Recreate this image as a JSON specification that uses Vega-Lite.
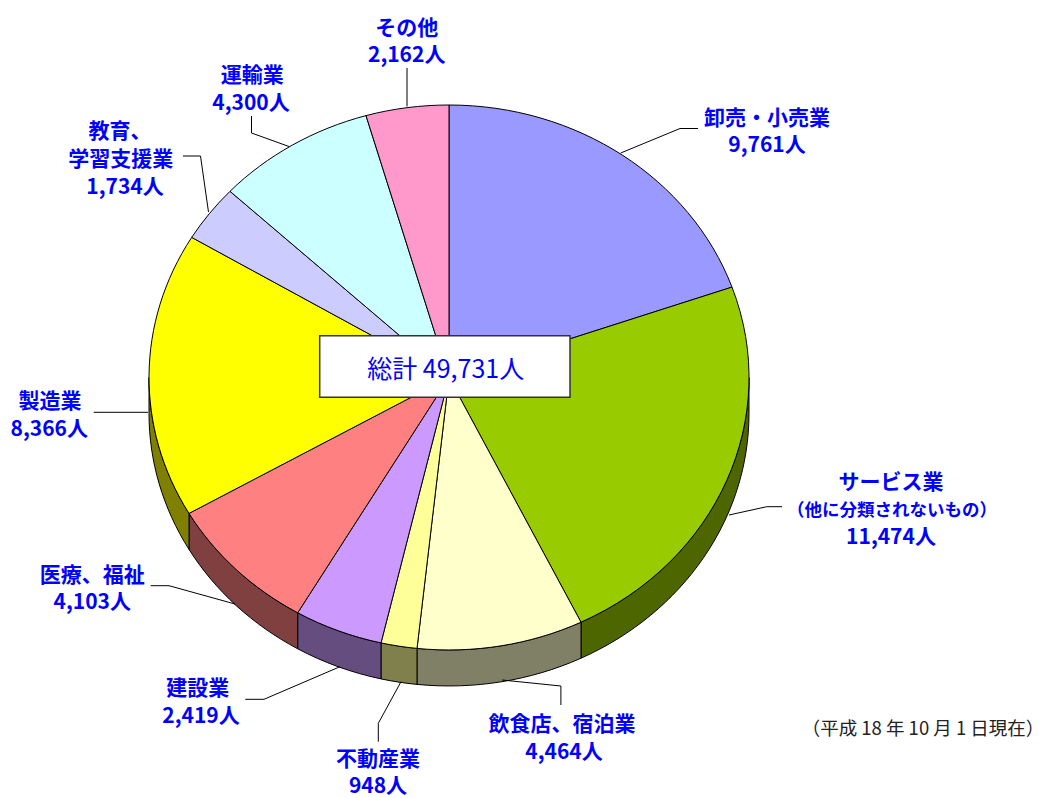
{"$schema":"https://vega.github.io/schema/vega-lite/v6.json","width":1053,"height":798,"padding":0,"autosize":{"type":"none"},"background":"white","view":{"stroke":null},
"datasets":{
"pie":[{"sector":"卸売・小売業","count":9761},{"sector":"サービス業（他に分類されないもの）","count":11474},{"sector":"飲食店、宿泊業","count":4464},{"sector":"不動産業","count":948},{"sector":"建設業","count":2419},{"sector":"医療、福祉","count":4103},{"sector":"製造業","count":8366},{"sector":"教育、学習支援業","count":1734},{"sector":"運輸業","count":4300},{"sector":"その他","count":2162}],
"leaders":[
{"k":"a","s":0,"x":249,"y":-249},{"k":"a","s":1,"x":231,"y":-249},{"k":"a","s":2,"x":171.7,"y":-224.5},
{"k":"b","s":0,"x":333,"y":129.2},{"k":"b","s":1,"x":317.7,"y":129.2},{"k":"b","s":2,"x":280,"y":137.5},
{"k":"c","s":0,"x":111.9,"y":327.5},{"k":"c","s":1,"x":111.9,"y":308.5},{"k":"c","s":2,"x":53,"y":302.5},
{"k":"d","s":0,"x":-70.7,"y":364.2},{"k":"d","s":1,"x":-70.7,"y":345.8},{"k":"d","s":2,"x":-48,"y":304.2},
{"k":"e","s":0,"x":-203.7,"y":321.8},{"k":"e","s":1,"x":-185,"y":321.8},{"k":"e","s":2,"x":-109,"y":289.2},
{"k":"f","s":0,"x":-298.3,"y":208.2},{"k":"f","s":1,"x":-280,"y":208.2},{"k":"f","s":2,"x":-214,"y":226.5},
{"k":"g","s":0,"x":-355.3,"y":34.8},{"k":"g","s":1,"x":-301,"y":34.8},
{"k":"h","s":0,"x":-266,"y":-221.5},{"k":"h","s":1,"x":-248.5,"y":-221.5},{"k":"h","s":2,"x":-240.5,"y":-165.5},
{"k":"i","s":0,"x":-197.5,"y":-261.5},{"k":"i","s":1,"x":-197.5,"y":-244.5},{"k":"i","s":2,"x":-160,"y":-231},
{"k":"j","s":0,"x":-42,"y":-309.5},{"k":"j","s":1,"x":-42,"y":-271}
],
"labels":[
{"t":"卸売・小売業","x":318,"y":-259},{"t":"9,761人","x":318,"y":-231.5},
{"t":"サービス業","x":442,"y":105},{"t":"11,474人","x":442,"y":160.5},
{"t":"飲食店、宿泊業","x":113,"y":347.3},{"t":"4,464人","x":115,"y":375},
{"t":"不動産業","x":-71,"y":382},{"t":"948人","x":-71,"y":409.5},
{"t":"建設業","x":-251.3,"y":311.5},{"t":"2,419人","x":-248,"y":339},
{"t":"医療、福祉","x":-356.7,"y":198.3},{"t":"4,103人","x":-356.7,"y":225.8},
{"t":"製造業","x":-399,"y":24.5},{"t":"8,366人","x":-399.7,"y":52},
{"t":"教育、","x":-329,"y":-245.5},{"t":"学習支援業","x":-328.3,"y":-217.5},{"t":"1,734人","x":-324,"y":-190},
{"t":"運輸業","x":-196.7,"y":-301.5},{"t":"4,300人","x":-198,"y":-274},
{"t":"その他","x":-42.3,"y":-349},{"t":"2,162人","x":-42.3,"y":-321.5}
]},
"layer":[
{"data":{"name":"pie"},"transform":[{"filter":{"field":"sector","oneOf":["サービス業（他に分類されないもの）","飲食店、宿泊業","不動産業","建設業","医療、福祉","製造業"]}}],
"mark":{"type":"point","filled":true,"size":4,"opacity":1,"stroke":"black","strokeWidth":1},
"encoding":{"x":{"datum":0,"type":"quantitative","scale":{"domain":[-449,604],"nice":false,"zero":false},"axis":null},"y":{"datum":0,"type":"quantitative","scale":{"domain":[420.5,-377.5],"nice":false,"zero":false},"axis":null},
"fill":{"field":"sector","type":"nominal","legend":null,"scale":{"domain":["サービス業（他に分類されないもの）","飲食店、宿泊業","不動産業","建設業","医療、福祉","製造業"],"range":["#4d6600","#808066","#80804d","#664d80","#804040","#808000"]}},
"shape":{"field":"sector","type":"nominal","legend":null,"scale":{"domain":["サービス業（他に分類されないもの）","飲食店、宿泊業","不動産業","建設業","医療、福祉","製造業"],"range":[
"M300,0A300,272.5,0,0,1,132,244.7L132,280.7A300,272.5,0,0,0,300,36Z",
"M132,244.7A300,272.5,0,0,1,-32,270.9L-32,306.9A300,272.5,0,0,0,132,280.7Z",
"M-32,270.9A300,272.5,0,0,1,-68,265.4L-68,301.4A300,272.5,0,0,0,-32,306.9Z",
"M-68,265.4A300,272.5,0,0,1,-151.3,235.3L-151.3,271.3A300,272.5,0,0,0,-68,301.4Z",
"M-151.3,235.3A300,272.5,0,0,1,-260,135.9L-260,171.9A300,272.5,0,0,0,-151.3,271.3Z",
"M-260,135.9A300,272.5,0,0,1,-300,0L-300,36A300,272.5,0,0,0,-260,171.9Z"]}}}},
{"data":{"name":"pie"},
"mark":{"type":"point","filled":true,"size":4,"opacity":1,"stroke":"black","strokeWidth":1},
"encoding":{"x":{"datum":0,"type":"quantitative"},"y":{"datum":0,"type":"quantitative"},
"fill":{"field":"sector","type":"nominal","legend":null,"scale":{"domain":["卸売・小売業","サービス業（他に分類されないもの）","飲食店、宿泊業","不動産業","建設業","医療、福祉","製造業","教育、学習支援業","運輸業","その他"],"range":["#9999ff","#99cc00","#ffffcc","#ffff99","#cc99ff","#ff8080","#ffff00","#ccccff","#ccffff","#ff99cc"]}},
"shape":{"field":"sector","type":"nominal","legend":null,"scale":{"domain":["卸売・小売業","サービス業（他に分類されないもの）","飲食店、宿泊業","不動産業","建設業","医療、福祉","製造業","教育、学習支援業","運輸業","その他"],"range":[
"M0,0L0,-272.5A300,272.5,0,0,1,283,-90.4Z",
"M0,0L283,-90.4A300,272.5,0,0,1,132,244.7Z",
"M0,0L132,244.7A300,272.5,0,0,1,-32,270.9Z",
"M0,0L-32,270.9A300,272.5,0,0,1,-68,265.4Z",
"M0,0L-68,265.4A300,272.5,0,0,1,-151.3,235.3Z",
"M0,0L-151.3,235.3A300,272.5,0,0,1,-260,135.9Z",
"M0,0L-260,135.9A300,272.5,0,0,1,-257.3,-140.1Z",
"M0,0L-257.3,-140.1A300,272.5,0,0,1,-219,-186.2Z",
"M0,0L-219,-186.2A300,272.5,0,0,1,-83,-261.9Z",
"M0,0L-83,-261.9A300,272.5,0,0,1,0,-272.5Z"]}}}},
{"data":{"name":"leaders"},"mark":{"type":"line","stroke":"black","strokeWidth":1,"interpolate":"linear"},
"encoding":{"x":{"field":"x","type":"quantitative"},"y":{"field":"y","type":"quantitative"},"detail":{"field":"k"},"order":{"field":"s","type":"quantitative"}}},
{"data":{"values":[{"x0":-129.3,"x1":121,"y0":-41.8,"y1":19.8}]},"mark":{"type":"rect","fill":"white","stroke":"#333333","strokeWidth":1.5},
"encoding":{"x":{"field":"x0","type":"quantitative"},"x2":{"field":"x1"},"y":{"field":"y0","type":"quantitative"},"y2":{"field":"y1"}}},
{"data":{"values":[{"t":"総計 49,731人","x":-3.3,"y":-7.5}]},"mark":{"type":"text","font":"Noto Sans CJK JP","fontSize":25,"fill":"#0000ff","align":"center","baseline":"middle"},
"encoding":{"x":{"field":"x","type":"quantitative"},"y":{"field":"y","type":"quantitative"},"text":{"field":"t"}}},
{"data":{"name":"labels"},"mark":{"type":"text","font":"Noto Sans CJK JP","fontWeight":"bold","fontSize":21,"fill":"#0000ff","align":"center","baseline":"middle"},
"encoding":{"x":{"field":"x","type":"quantitative"},"y":{"field":"y","type":"quantitative"},"text":{"field":"t"}}},
{"data":{"values":[{"t":"（他に分類されないもの）","x":443,"y":133}]},"mark":{"type":"text","font":"Noto Sans CJK JP","fontWeight":"bold","fontSize":17.5,"fill":"#0000ff","align":"center","baseline":"middle"},
"encoding":{"x":{"field":"x","type":"quantitative"},"y":{"field":"y","type":"quantitative"},"text":{"field":"t"}}},
{"data":{"values":[{"t":"（平成 18 年 10 月 1 日現在）","x":474,"y":351}]},"mark":{"type":"text","font":"Noto Sans CJK JP","fontSize":18.5,"fill":"#222222","align":"center","baseline":"middle"},
"encoding":{"x":{"field":"x","type":"quantitative"},"y":{"field":"y","type":"quantitative"},"text":{"field":"t"}}}
],
"resolve":{"scale":{"fill":"independent","shape":"independent"}}}
